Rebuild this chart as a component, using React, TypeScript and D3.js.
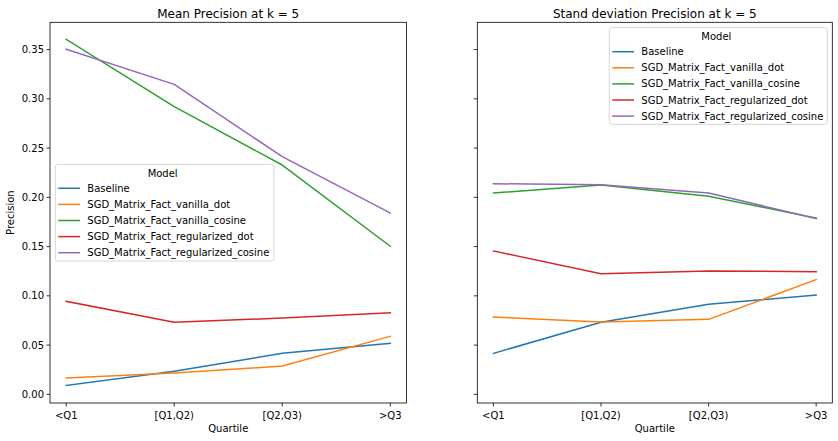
import React from "react";
import * as d3 from "d3";

const categories = ["<Q1", "[Q1,Q2)", "[Q2,Q3)", ">Q3"];
const models = [
  "Baseline",
  "SGD_Matrix_Fact_vanilla_dot",
  "SGD_Matrix_Fact_vanilla_cosine",
  "SGD_Matrix_Fact_regularized_dot",
  "SGD_Matrix_Fact_regularized_cosine",
];
const colors = ["#1f77b4", "#ff7f0e", "#2ca02c", "#d62728", "#9467bd"];

const meanBaseline = [0.0091, 0.0234, 0.0416, 0.0518];
const meanVanillaDot = [0.0165, 0.0216, 0.0287, 0.0589];
const meanVanillaCosine = [0.3604, 0.292, 0.2328, 0.1503];
const meanRegDot = [0.0944, 0.0731, 0.0775, 0.0829];
const meanRegCosine = [0.3503, 0.3147, 0.2413, 0.1841];

const stdBaseline = [0.0416, 0.0731, 0.0914, 0.1008];
const stdVanillaDot = [0.0785, 0.0734, 0.0761, 0.1164];
const stdVanillaCosine = [0.2044, 0.2125, 0.201, 0.1790];
const stdRegDot = [0.1455, 0.1225, 0.1252, 0.1245];
const stdRegCosine = [0.2138, 0.2128, 0.2044, 0.1785];

const yTicks = [0, 0.05, 0.1, 0.15, 0.2, 0.25, 0.3, 0.35];

const FONT = "DejaVu Sans, sans-serif";

const W = 838;
const H = 441;
const top = 22.3;
const bottom = 403;

const y = d3.scaleLinear().domain([-0.0088, 0.3777]).range([bottom, top]);

type Panel = {
  title: string;
  x0: number;
  x1: number;
  series: number[][];
  showYLabels: boolean;
  legend: { x: number; y: number; w: number; h: number };
};

const panels: Panel[] = [
  {
    title: "Mean Precision at k = 5",
    x0: 50,
    x1: 406.5,
    series: [meanBaseline, meanVanillaDot, meanVanillaCosine, meanRegDot, meanRegCosine],
    showYLabels: true,
    legend: { x: 55.3, y: 164.3, w: 218.7, h: 96.7 },
  },
  {
    title: "Stand deviation Precision at k = 5",
    x0: 477.3,
    x1: 832.3,
    series: [stdBaseline, stdVanillaDot, stdVanillaCosine, stdRegDot, stdRegCosine],
    showYLabels: false,
    legend: { x: 609.3, y: 27.7, w: 218, h: 96.6 },
  },
];

function PanelView({ p }: { p: Panel }) {
  const x = d3
    .scaleLinear()
    .domain([-0.15, 3.15])
    .range([p.x0, p.x1]);
  const line = d3
    .line<number>()
    .x((_, i) => x(i))
    .y((d) => y(d));
  const cx = (p.x0 + p.x1) / 2;
  const lg = p.legend;
  return (
    <g>
      <text x={cx} y={17.5} textAnchor="middle" fontSize={12} fontFamily={FONT} fill="#000">
        {p.title}
      </text>
      {p.series.map((s, i) => (
        <path key={i} d={line(s) || ""} fill="none" stroke={colors[i]} strokeWidth={1.5} strokeLinejoin="round" strokeLinecap="square" />
      ))}
      <rect x={p.x0} y={top} width={p.x1 - p.x0} height={bottom - top} fill="none" stroke="#000" strokeWidth={0.8} />
      {yTicks.map((t) => (
        <g key={t}>
          <line x1={p.x0} x2={p.x0 - 3.5} y1={y(t)} y2={y(t)} stroke="#000" strokeWidth={0.8} />
          {p.showYLabels && (
            <text x={p.x0 - 6} y={y(t)} dy="0.35em" textAnchor="end" fontSize={10} fontFamily={FONT} fill="#000">
              {t.toFixed(2)}
            </text>
          )}
        </g>
      ))}
      {categories.map((c, i) => (
        <g key={c}>
          <line x1={x(i)} x2={x(i)} y1={bottom} y2={bottom + 3.5} stroke="#000" strokeWidth={0.8} />
          <text x={x(i)} y={bottom + 15.5} textAnchor="middle" fontSize={10} fontFamily={FONT} fill="#000">
            {c}
          </text>
        </g>
      ))}
      <text x={cx} y={432} textAnchor="middle" fontSize={10} fontFamily={FONT} fill="#000">
        Quartile
      </text>
      <g>
        <rect x={lg.x} y={lg.y} width={lg.w} height={lg.h} rx={2.5} fill="#fff" fillOpacity={0.8} stroke="#cccccc" strokeWidth={0.8} />
        <text x={lg.x + lg.w / 2 - 2} y={lg.y + 12.5} textAnchor="middle" fontSize={10} fontFamily={FONT} fill="#000">
          Model
        </text>
        {models.map((m, i) => {
          const ey = lg.y + 24 + i * 16.1;
          return (
            <g key={m}>
              <line x1={lg.x + 3} x2={lg.x + 24.7} y1={ey} y2={ey} stroke={colors[i]} strokeWidth={1.5} />
              <text x={lg.x + 32} y={ey} dy="0.35em" fontSize={10} fontFamily={FONT} fill="#000">
                {m}
              </text>
            </g>
          );
        })}
      </g>
    </g>
  );
}

export default function App() {
  return (
    <svg width={W} height={H} style={{ position: "absolute", left: 0, top: 0, background: "#fff" }}>
      <rect x={0} y={0} width={W} height={H} fill="#fff" />
      {panels.map((p) => (
        <PanelView key={p.title} p={p} />
      ))}
      <text
        transform={`translate(13.5, ${(top + bottom) / 2}) rotate(-90)`}
        textAnchor="middle"
        fontSize={10}
        fontFamily={FONT}
        fill="#000"
      >
        Precision
      </text>
    </svg>
  );
}
